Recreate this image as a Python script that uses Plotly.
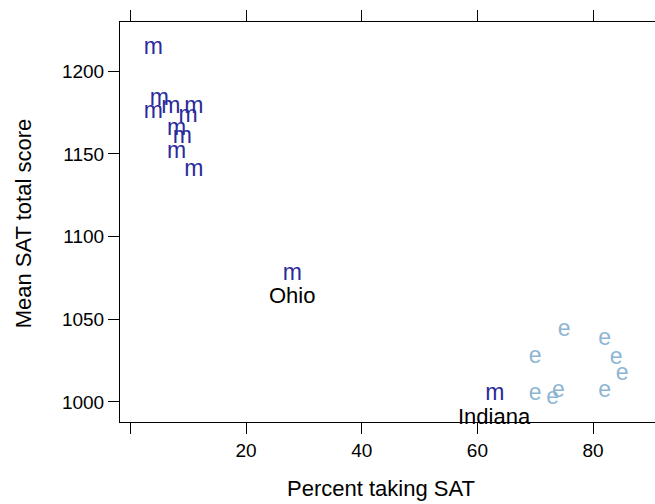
import plotly.graph_objects as go

# Region "m" (midwest-ish) states
pct_m = [4, 4, 5, 7, 11, 10, 8, 9, 8, 11, 28, 63]
sat_m = [1214, 1175.5, 1183, 1178.5, 1178.5, 1173, 1165, 1160, 1151, 1140, 1077.5, 1004.5]
# Region "e" states
pct_e = [75, 82, 70, 84, 85, 70, 73, 74, 82]
sat_e = [1043.5, 1038, 1027, 1026.5, 1016.5, 1004.5, 1002.5, 1006.5, 1006.5]
# Labelled states
label_names = ["Ohio", "Indiana"]
label_pct = [28, 63]
label_sat = [1077.5, 1004.5]

x_ticks = [0, 20, 40, 60, 80]
x_ticktext = ["", "20", "40", "60", "80"]
y_ticks = [1000, 1050, 1100, 1150, 1200]

FONT = "Liberation Sans, Arial, Helvetica, sans-serif"
COL_M = "#2A2A9C"
COL_E = "#8DB5D3"

fig = go.Figure()
fig.add_trace(go.Scatter(x=pct_m, y=sat_m, mode="text", text=["m"] * len(pct_m),
                         textposition="middle center", cliponaxis=False,
                         textfont=dict(family=FONT, size=23, color=COL_M),
                         hoverinfo="skip", showlegend=False))
fig.add_trace(go.Scatter(x=pct_e, y=sat_e, mode="text", text=["e"] * len(pct_e),
                         textposition="middle center", cliponaxis=False,
                         textfont=dict(family=FONT, size=23, color=COL_E),
                         hoverinfo="skip", showlegend=False))

annotations = []
for nm, xv, yv in zip(label_names, label_pct, label_sat):
    annotations.append(dict(x=xv, y=yv, xref="x", yref="y", text=nm, showarrow=False,
                            yshift=-22, font=dict(family=FONT, size=22, color="black")))
annotations.append(dict(x=0.488, y=504 - 488, xref="paper", yref="paper", text="", showarrow=False))
annotations.pop()
annotations.append(dict(x=(381 - 120) / 535, y=-(488 - 422) / 400, xref="paper", yref="paper",
                        text="Percent taking SAT", showarrow=False, xanchor="center", yanchor="middle",
                        font=dict(family=FONT, size=22, color="black")))
annotations.append(dict(x=-(120 - 23.5) / 535, y=0.5 + (221.7 - 223.5) / 400, xref="paper", yref="paper",
                        text="Mean SAT total score", showarrow=False, textangle=-90,
                        xanchor="center", yanchor="middle",
                        font=dict(family=FONT, size=22, color="black")))

axis_common = dict(showgrid=False, zeroline=False, showline=True, linecolor="black", linewidth=1,
                   ticks="outside", ticklen=11, tickwidth=1, tickcolor="black",
                   tickfont=dict(family=FONT, size=19, color="black"))

fig.update_layout(
    width=655, height=504,
    margin=dict(l=120, r=0, t=22, b=82),
    paper_bgcolor="white", plot_bgcolor="white",
    xaxis=dict(range=[-1.78, 90.7], tickvals=x_ticks, ticktext=x_ticktext, **axis_common),
    xaxis2=dict(range=[-1.78, 90.7], tickvals=x_ticks, showticklabels=False, overlaying="x",
                side="top", **axis_common),
    yaxis=dict(range=[987.9, 1229.8], tickvals=y_ticks, **axis_common),
    annotations=annotations,
)
fig.add_trace(go.Scatter(x=[None], y=[None], xaxis="x2", showlegend=False, hoverinfo="skip"))
fig.write_html("out.html")
